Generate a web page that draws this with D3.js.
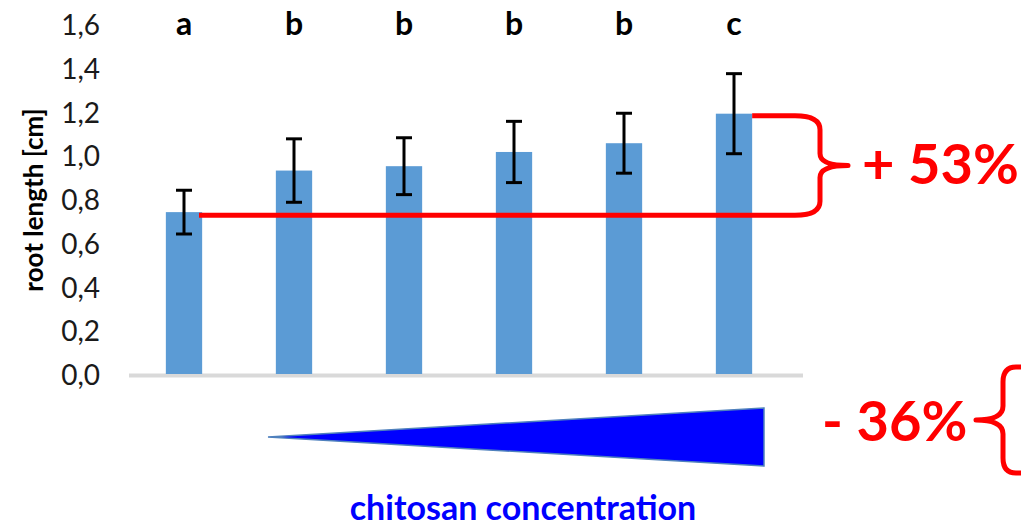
<!DOCTYPE html>
<html>
<head>
<meta charset="utf-8">
<script src="https://cdn.jsdelivr.net/npm/d3@7"></script>
<style>
  html, body { margin: 0; padding: 0; background: #fff; }
  svg { display: block; }
</style>
</head>
<body>
<div id="chart"></div>
<script>
// data
const groups   = ["1", "2", "3", "4", "5", "6"];
const means    = [0.74, 0.93, 0.95, 1.015, 1.055, 1.19];
const errors   = [0.10, 0.145, 0.13, 0.14, 0.137, 0.183];
const letters  = ["a", "b", "b", "b", "b", "c"];
const yTicks   = [0, 0.2, 0.4, 0.6, 0.8, 1.0, 1.2, 1.4, 1.6];

const W = 1021, H = 526;
const font = "Lato, 'Open Sans', sans-serif";

const svg = d3.select("#chart").append("svg")
    .attr("width", W)
    .attr("height", H);

const x = d3.scaleBand()
    .domain(groups)
    .range([129, 789])
    .paddingInner(0.67)
    .paddingOuter(0.335);

const y = d3.scaleLinear()
    .domain([0, 1.6])
    .range([374, 24]);

// y axis labels (no line, no ticks)
const yAxis = svg.append("g")
    .attr("transform", "translate(100,0)")
    .call(d3.axisLeft(y).tickValues(yTicks).tickSize(0).tickPadding(0)
        .tickFormat(d => d3.format(".1f")(d).replace(".", ",")));
yAxis.select(".domain").remove();
yAxis.selectAll("text")
    .attr("font-family", font)
    .attr("font-size", 28)
    .attr("fill", "#1a1a1a")
    .attr("dy", "0.38em");

svg.append("text")
    .attr("transform", "translate(43,200) rotate(-90)")
    .attr("text-anchor", "middle")
    .attr("font-family", font)
    .attr("font-weight", "bold")
    .attr("font-size", 26)
    .attr("fill", "#000")
    .text("root length [cm]");

// baseline
svg.append("line")
    .attr("x1", 129).attr("x2", 803)
    .attr("y1", y(0) + 1.5).attr("y2", y(0) + 1.5)
    .attr("stroke", "#d9d9d9")
    .attr("stroke-width", 4);

// bars
svg.selectAll("rect.bar")
    .data(means)
    .enter()
    .append("rect")
    .attr("class", "bar")
    .attr("x", (d, i) => x(groups[i]))
    .attr("width", x.bandwidth())
    .attr("y", d => y(d))
    .attr("height", d => y(0) - y(d))
    .attr("fill", "#5b9bd5");

// error bars
const eb = svg.selectAll("g.err")
    .data(means)
    .enter()
    .append("g")
    .attr("class", "err")
    .attr("stroke", "#000")
    .attr("stroke-width", 3);

const cx = i => x(groups[i]) + x.bandwidth() / 2;

eb.append("line")
    .attr("x1", (d, i) => cx(i)).attr("x2", (d, i) => cx(i))
    .attr("y1", (d, i) => y(d + errors[i]))
    .attr("y2", (d, i) => y(d - errors[i]));
eb.append("line")
    .attr("x1", (d, i) => cx(i) - 8).attr("x2", (d, i) => cx(i) + 8)
    .attr("y1", (d, i) => y(d + errors[i]))
    .attr("y2", (d, i) => y(d + errors[i]));
eb.append("line")
    .attr("x1", (d, i) => cx(i) - 8).attr("x2", (d, i) => cx(i) + 8)
    .attr("y1", (d, i) => y(d - errors[i]))
    .attr("y2", (d, i) => y(d - errors[i]));

// significance letters
svg.selectAll("text.letter")
    .data(letters)
    .enter()
    .append("text")
    .attr("class", "letter")
    .attr("x", (d, i) => cx(i))
    .attr("y", 35)
    .attr("text-anchor", "middle")
    .attr("font-family", font)
    .attr("font-weight", "bold")
    .attr("font-size", 32)
    .attr("fill", "#000")
    .text(d => d);

// red brace: from first bar to last bar
const yT = y(means[5]) + 2, yB = y(means[0]) + 3;
const ym = (yT + yB) / 2;
const bx = 820, tipX = 848;
const p = d3.path();
p.moveTo(cx(0) + 15, yB);
p.lineTo(bx - 25, yB);
p.quadraticCurveTo(bx, yB, bx, yB - 14);
p.lineTo(bx, ym + 12);
p.quadraticCurveTo(bx, ym, tipX, ym);
p.quadraticCurveTo(bx, ym, bx, ym - 12);
p.lineTo(bx, yT + 14);
p.quadraticCurveTo(bx, yT, bx - 25, yT);
p.lineTo(x(groups[5]) + x.bandwidth(), yT);
svg.append("path")
    .attr("d", p.toString())
    .attr("fill", "none")
    .attr("stroke", "#ff0000")
    .attr("stroke-width", 5)
    .attr("stroke-linejoin", "round");

svg.append("text")
    .attr("x", 862).attr("y", 184)
    .attr("font-family", font)
    .attr("font-weight", "bold")
    .attr("font-size", 56)
    .attr("fill", "#ff0000")
    .text("+ 53%");

// concentration wedge
svg.append("path")
    .attr("d", "M268,437 L764,408 L764,466 Z")
    .attr("fill", "#0000ff")
    .attr("stroke", "#4f81bd")
    .attr("stroke-width", 1.5);

svg.append("text")
    .attr("x", 523).attr("y", 520)
    .attr("text-anchor", "middle")
    .attr("font-family", font)
    .attr("font-weight", "bold")
    .attr("font-size", 34)
    .attr("fill", "#0000ff")
    .text("chitosan concentration");

svg.append("text")
    .attr("x", 822).attr("y", 441)
    .attr("font-family", font)
    .attr("font-weight", "bold")
    .attr("font-size", 56)
    .attr("fill", "#ff0000")
    .text("- 36%");

// second brace, cut off at the right edge
const q = d3.path();
q.moveTo(1030, 367);
q.lineTo(1016, 367);
q.quadraticCurveTo(1003, 367, 1003, 382);
q.lineTo(1003, 406);
q.quadraticCurveTo(1003, 420, 976, 420);
q.quadraticCurveTo(1003, 420, 1003, 434);
q.lineTo(1003, 458);
q.quadraticCurveTo(1003, 473, 1016, 473);
q.lineTo(1030, 473);
svg.append("path")
    .attr("d", q.toString())
    .attr("fill", "none")
    .attr("stroke", "#ff0000")
    .attr("stroke-width", 5)
    .attr("stroke-linejoin", "round");
</script>
</body>
</html>
